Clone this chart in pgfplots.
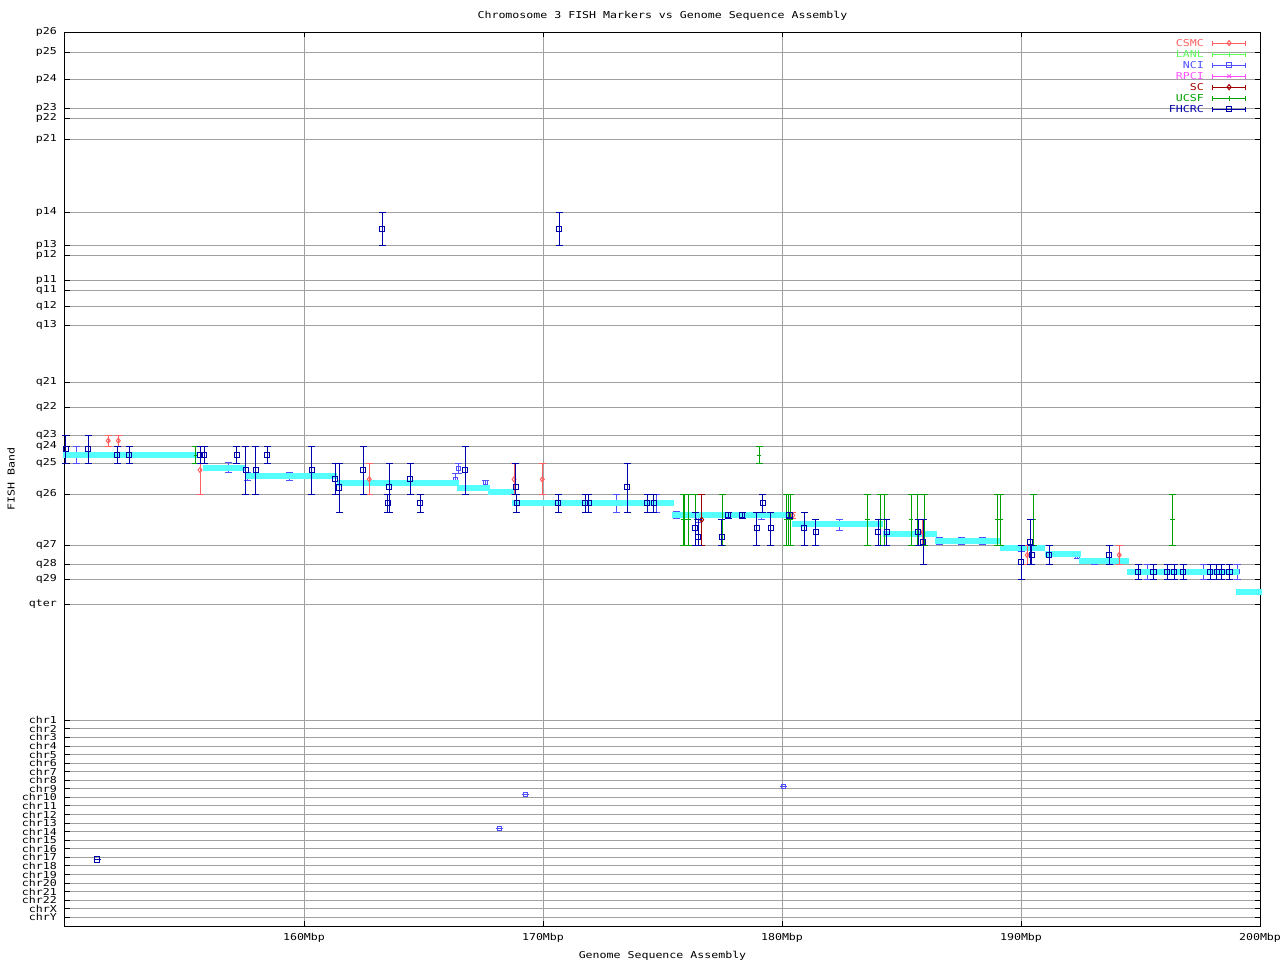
\documentclass[border=0pt]{standalone}
\usepackage{fontspec}
\setmainfont{DejaVu Sans Mono}[FakeStretch=1.22]
\usepackage{pgfplots}
\usepackage{pgfplotstable}
\pgfplotsset{compat=1.18}
\definecolor{cCSMC}{RGB}{255,96,96}
\definecolor{cLANL}{RGB}{96,255,96}
\definecolor{cNCI}{RGB}{80,80,255}
\definecolor{cRPCI}{RGB}{255,80,255}
\definecolor{cSC}{RGB}{160,0,0}
\definecolor{cUCSF}{RGB}{0,160,0}
\definecolor{cFHCRC}{RGB}{0,0,170}
\definecolor{cCyan}{RGB}{85,255,255}
\definecolor{cGrid}{RGB}{160,160,160}
\newcommand\lbl{\fontsize{4.75pt}{6pt}\selectfont}

\pgfplotstableread{
x y lo hi
150.04 449.3 435.3 463.3
150.97 449.3 435.3 463.3
152.19 455 446.3 463.3
152.69 455 446.3 463.3
155.65 455 446.3 463.3
155.83 455 446.3 463.3
157.18 455 446.3 463.3
157.56 470 446.3 494
157.98 470 446.3 494
158.46 455 446.3 463.3
160.32 470 446.3 494
161.31 479.3 463.3 494
161.48 487.5 463.3 512
162.48 470 446.3 494
163.50 503.3 494 512
163.57 487.3 463.3 512
164.45 479.3 463.3 494
164.87 503.3 494 512
166.75 470 446.3 494
168.86 487.3 463.3 494
168.90 503.3 494 512
170.64 503.3 494 512
171.76 503.3 494 512
171.90 503.3 494 512
173.53 487.3 463.3 512
174.36 503.3 494 512
174.64 503.3 494 512
176.36 528.3 512.3 545.3
176.50 537.3 519.3 545.3
177.48 537.3 519.3 545.3
177.75 515.3 512.3 518.3
178.34 515.3 512.3 518.3
178.94 528.3 512.3 545.3
179.19 503.3 494 512.3
179.53 528.3 512.3 545.3
180.31 515.3 512.3 518.3
180.93 528.3 512.3 545.3
181.42 532.3 519.3 545.3
184.03 532.3 519.3 545.3
184.38 532.3 519.3 545.3
185.70 532.3 519.3 545.3
185.91 542.3 519.3 564.3
190.00 562.3 545.3 579
190.38 542.3 519.3 564.3
190.46 555 545.3 564.3
191.18 555 545.3 564.3
193.69 555 545.3 564.3
194.91 572.3 564.3 579
195.54 572.3 564.3 579
196.12 572.3 564.3 579
196.41 572.3 564.3 579
196.79 572.3 564.3 579
197.91 572.3 564.3 579
198.19 572.3 564.3 579
198.40 572.3 564.3 579
198.72 572.3 564.3 579
163.28 229 212.3 245.3
170.67 229 212.3 245.3
151.34 859.5 859.5 859.5
}\tFHCRC

\pgfplotstableread{
x y lo hi
150.49 455 446.3 463.3
156.83 467 462.7 472
157.64 476 472.7 480
159.39 476 472.3 480
166.33 479 473.3 484.3
166.46 468.3 463.3 473.3
167.59 482.7 480 485.5
173.08 503 494 512
174.76 503 494 512
175.59 514.5 511 518
176.50 517 512.3 522
179.15 515.5 512 519
182.40 524.5 519.3 530
186.58 541 537.5 544.5
187.49 541 537.5 544.5
188.38 541 537.5 544.5
190.00 548.7 545.3 551.7
192.36 556.7 555 558.5
193.07 561 558 564
195.28 571.7 564.3 579
197.63 571.7 564.3 579
199.05 571.7 564.3 579
168.16 828 828 828
169.25 794 794 794
180.08 786 786 786
}\tNCI

\pgfplotstableread{
x y lo hi
151.81 440.7 435.3 446.3
152.23 440.7 435.3 446.3
155.65 470 463.3 494
162.73 479.3 463.3 494
168.79 479.3 463.3 494
169.97 479.3 463.3 494
180.45 515.3 512.3 518.3
185.89 532.3 519.3 545.3
190.26 555 545.3 564.3
194.11 555 545.3 564.3
}\tCSMC

\pgfplotstableread{
x y lo hi
176.64 519.7 494 545.3
}\tSC

\pgfplotstableread{
x y lo hi
155.48 455 446.3 463.3
175.87 519.7 494 545.3
175.94 519.7 494 545.3
176.08 519.7 494 545.3
176.40 519.7 494 545.3
177.50 519.7 494 545.3
179.04 455 446.3 463.3
180.20 519.7 494 545.3
180.26 519.7 494 545.3
180.36 519.7 494 545.3
183.57 519.7 494 545.3
184.13 519.7 494 545.3
184.27 519.7 494 545.3
185.40 519.7 494 545.3
185.66 519.7 494 545.3
185.95 519.7 494 545.3
189.03 519.7 494 545.3
189.16 519.7 494 545.3
190.51 519.7 494 545.3
196.33 519.7 494 545.3
}\tUCSF

\pgfplotsset{
 myleg/.style 2 args={legend image code/.code={
   \draw[#1,line width=0.5pt] (0pt,0pt)--(16.8pt,0pt) (0pt,-1.25pt)--(0pt,1.25pt) (16.8pt,-1.25pt)--(16.8pt,1.25pt);
   \draw[#1,line width=0.5pt] plot[mark=#2,mark size=1.3pt] coordinates {(8.4pt,0pt)};
 }},
 errs/.style={only marks, line width=0.5pt, forget plot,
   error bars/.cd, y dir=both, y explicit,
   error bar style={line width=0.5pt},
   error mark options={rotate=90, mark size=1.75pt, line width=0.5pt}},
}

\begin{document}
\begin{tikzpicture}
\path[use as bounding box] (0,0) rectangle (640pt,480pt);
\begin{axis}[
  at={(32.5pt,17pt)}, anchor=south west,
  scale only axis, width=597.5pt, height=447pt,
  xmin=150, xmax=200, ymin=32, ymax=926, y dir=reverse,
  clip=false, clip marker paths=true,
  xtick={160,170,180,190,200},
  xticklabels={160Mbp,170Mbp,180Mbp,190Mbp,200Mbp},
  ytick={32.3,52.3,79,108.3,118.3,139.3,212.3,245.3,255,280.3,290.3,306.3,325.3,382,407.3,435.3,446.3,463.3,494,545.3,564.3,579,604.3,
    720.3,728.9,737.4,746.0,754.6,763.1,771.7,780.3,788.8,797.4,805.9,814.5,823.1,831.6,840.2,848.8,857.3,865.9,874.5,883.0,891.6,900.1,908.7,917.3},
  yticklabels={p26,p25,p24,p23,p22,p21,p14,p13,p12,p11,q11,q12,q13,q21,q22,q23,q24,q25,q26,q27,q28,q29,qter,
    chr1,chr2,chr3,chr4,chr5,chr6,chr7,chr8,chr9,chr10,chr11,chr12,chr13,chr14,chr15,chr16,chr17,chr18,chr19,chr20,chr21,chr22,chrX,chrY},
  grid=major, major grid style={color=cGrid, line width=0.5pt},
  tick align=inside, major tick length=2.5pt, tick style={black, line width=0.5pt},
  axis line style={line width=0.5pt},
  yticklabel style={font=\lbl, xshift=-0.6pt},
  xticklabel style={font=\lbl, yshift=-0.3pt},
  title={Chromosome 3 FISH Markers vs Genome Sequence Assembly},
  title style={font=\lbl, at={(axis description cs:0.5,1)}, anchor=center, yshift=2.3pt},
  xlabel={Genome Sequence Assembly},
  xlabel style={font=\lbl, at={(axis description cs:0.5,0)}, anchor=center, yshift=-14.8pt},
  ylabel={FISH Band},
  ylabel style={font=\lbl, at={(axis description cs:-0.0452,0.5)}, anchor=center},
  legend style={draw=none, fill=none, at={(1,1)}, anchor=north east, xshift=-6.6pt, yshift=-2.6pt,
    font=\lbl, inner sep=0pt, row sep=0pt, column sep=4pt,
    nodes={inner sep=0pt, text height=4.2pt, text depth=1.3pt}},
  legend cell align=right, legend plot pos=right,
]
\addlegendimage{myleg={cCSMC}{diamond}}\addlegendentry{\textcolor{cCSMC}{CSMC}}
\addlegendimage{myleg={cLANL}{|}}\addlegendentry{\textcolor{cLANL}{LANL}}
\addlegendimage{myleg={cNCI}{square}}\addlegendentry{\textcolor{cNCI}{NCI}}
\addlegendimage{myleg={cRPCI}{x}}\addlegendentry{\textcolor{cRPCI}{RPCI}}
\addlegendimage{myleg={cSC}{diamond}}\addlegendentry{\textcolor{cSC}{SC}}
\addlegendimage{myleg={cUCSF}{|}}\addlegendentry{\textcolor{cUCSF}{UCSF}}
\addlegendimage{myleg={cFHCRC}{square}}\addlegendentry{\textcolor{cFHCRC}{FHCRC}}

\addplot[cNCI, mark=square, mark size=1.0pt, errs] table[x=x,y=y,y error plus expr=\thisrow{hi}-\thisrow{y},y error minus expr=\thisrow{y}-\thisrow{lo}] {\tNCI};

\addplot[cCyan, line width=3pt, forget plot, unbounded coords=jump] coordinates {
(149.92,455) (155.52,455) (nan,nan)
(155.77,467.7) (157.53,467.7) (nan,nan)
(157.53,475.7) (161.38,475.7) (nan,nan)
(161.38,482.7) (166.49,482.7) (nan,nan)
(166.40,487.7) (167.78,487.7) (nan,nan)
(167.70,491.7) (168.83,491.7) (nan,nan)
(168.70,503) (175.48,503) (nan,nan)
(175.40,515) (180.42,515) (nan,nan)
(180.42,523.5) (184.23,523.5) (nan,nan)
(184.23,533.5) (186.49,533.5) (nan,nan)
(186.40,541) (189.12,541) (nan,nan)
(189.12,547.7) (191.00,547.7) (nan,nan)
(191.00,554) (192.51,554) (nan,nan)
(192.43,560.7) (194.52,560.7) (nan,nan)
(194.43,571.7) (199.12,571.7) (nan,nan)
(199.00,592) (200.08,592)
};

\addplot[cCSMC, mark=diamond, mark size=1.3pt, errs] table[x=x,y=y,y error plus expr=\thisrow{hi}-\thisrow{y},y error minus expr=\thisrow{y}-\thisrow{lo}] {\tCSMC};
\addplot[cUCSF, mark=+, mark size=1.2pt, errs] table[x=x,y=y,y error plus expr=\thisrow{hi}-\thisrow{y},y error minus expr=\thisrow{y}-\thisrow{lo}] {\tUCSF};
\addplot[cSC, mark=diamond, mark size=1.3pt, errs] table[x=x,y=y,y error plus expr=\thisrow{hi}-\thisrow{y},y error minus expr=\thisrow{y}-\thisrow{lo}] {\tSC};
\addplot[cFHCRC, mark=square, mark size=1.3pt, errs] table[x=x,y=y,y error plus expr=\thisrow{hi}-\thisrow{y},y error minus expr=\thisrow{y}-\thisrow{lo}] {\tFHCRC};
\end{axis}
\end{tikzpicture}
\end{document}
